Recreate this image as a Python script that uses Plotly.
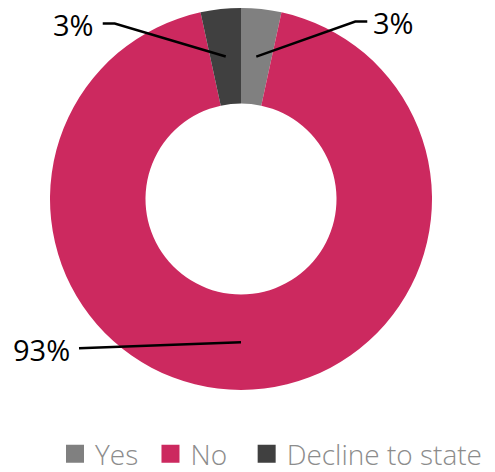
import math
import plotly.graph_objects as go

# ---- data ----
labels = ["Yes", "No", "Decline to state"]
values = [3.4, 93.2, 3.4]
colors = ["#808080", "#CC295F", "#404040"]

# ---- layout constants (pixels) ----
W, H = 495, 472
PIE_L, PIE_R, PIE_T, PIE_B = 50, 432, 8, 390  # pie bounding box
CX, CY = (PIE_L + PIE_R) / 2, (PIE_T + PIE_B) / 2
R_OUT = min(PIE_R - PIE_L, PIE_B - PIE_T) / 2
HOLE = 0.5
R_MID = R_OUT * (1 + HOLE) / 2

# leader geometry per slice: (elbow dx, elbow dy, horizontal tail length)
leader = [(99, -35, 12), (-162, 6, 0), (-111, -33, -12)]
# extra spacing after each legend entry (non-breaking spaces)
legend_pad = [1, 2, 0]


def px2paper(x, y):
    return x / W, 1 - y / H


fig = go.Figure()
fig.add_trace(
    go.Pie(
        labels=labels,
        values=values,
        marker=dict(colors=colors, line=dict(width=0)),
        hole=HOLE,
        sort=False,
        direction="clockwise",
        rotation=0,
        textinfo="none",
        hoverinfo="label+percent",
        showlegend=False,
        domain=dict(x=[PIE_L / W, PIE_R / W], y=[1 - PIE_B / H, 1 - PIE_T / H]),
    )
)
# legend entries (square swatches)
for lab, col, pad in zip(labels, colors, legend_pad):
    fig.add_trace(go.Scatter(
        x=[None], y=[None], mode="markers", name=lab + "\u00a0" * pad,
        marker=dict(symbol="square", size=16, color=col, line=dict(width=2, color=col)),
        hoverinfo="skip",
    ))

total = sum(values)
shapes, annotations = [], []
cum = 0.0
for i, v in enumerate(values):
    mid = cum + v / 2
    cum += v
    ang = math.radians(90 - 360 * mid / total)
    ax_, ay_ = CX + R_MID * math.cos(ang), CY - R_MID * math.sin(ang)
    dx, dy, tail = leader[i]
    ex, ey = ax_ + dx, ay_ + dy
    tx, ty = ex + tail, ey
    p0, p1, p2 = px2paper(ax_, ay_), px2paper(ex, ey), px2paper(tx, ty)
    shapes.append(dict(
        type="path", xref="paper", yref="paper",
        path=f"M {p0[0]},{p0[1]} L {p1[0]},{p1[1]} L {p2[0]},{p2[1]}",
        line=dict(color="black", width=2.5),
    ))
    right = tx > CX
    lx, ly = px2paper(tx + (4 if right else -7), ty + 1)
    annotations.append(dict(
        x=lx, y=ly, xref="paper", yref="paper",
        text=f"{round(100 * v / total)}%",
        showarrow=False,
        xanchor="left" if right else "right", yanchor="middle",
        font=dict(family="Open Sans", size=29, color="black"),
    ))

lgx, lgy = px2paper(55, 429)
fig.update_layout(
    width=W, height=H,
    margin=dict(l=0, r=0, t=0, b=0, autoexpand=False),
    paper_bgcolor="white",
    plot_bgcolor="white",
    showlegend=True,
    xaxis=dict(visible=False),
    yaxis=dict(visible=False),
    legend=dict(
        orientation="h", x=lgx, y=lgy, xanchor="left", yanchor="top",
        font=dict(family="Open Sans", size=28, color="#8C8C8C", weight=300),
        itemclick=False, itemdoubleclick=False,
    ),
    shapes=shapes,
    annotations=annotations,
)

fig.write_html(
    "out.html",
    config={"displayModeBar": False},
    post_script="document.body.style.margin='0';document.body.style.overflow='hidden';",
)
